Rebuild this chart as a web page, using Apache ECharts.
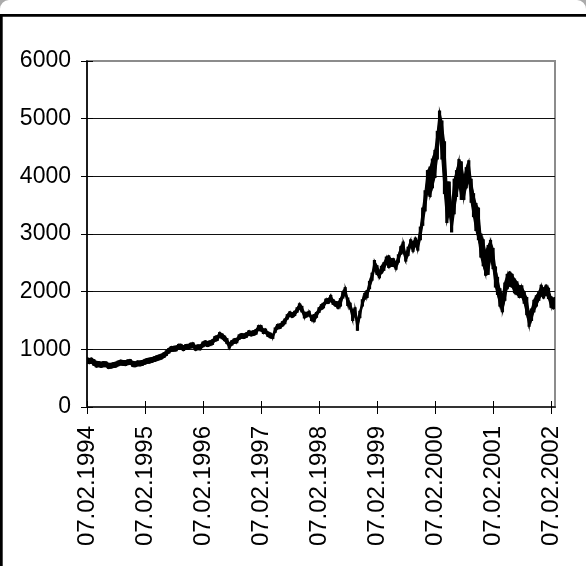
<!DOCTYPE html>
<html>
<head>
<meta charset="utf-8">
<title>Index 1994–2002</title>
<script src="https://cdn.jsdelivr.net/npm/echarts@6/dist/echarts.min.js"></script>
<style>
  html, body { margin: 0; padding: 0; background: #fff; }
  #chart { width: 586px; height: 566px; }
</style>
</head>
<body>
<div id="chart"></div>
<script>
// Half-monthly sampling dates
const dates = [
  '1994-02-07','1994-02-22','1994-03-07','1994-03-22','1994-04-07','1994-04-22','1994-05-07','1994-05-22','1994-06-07','1994-06-22','1994-07-07','1994-07-22','1994-08-07','1994-08-22','1994-09-07','1994-09-22','1994-10-07','1994-10-22','1994-11-07','1994-11-22','1994-12-07','1994-12-22',
  '1995-01-07','1995-01-22','1995-02-07','1995-02-22','1995-03-07','1995-03-22','1995-04-07','1995-04-22','1995-05-07','1995-05-22','1995-06-07','1995-06-22','1995-07-07','1995-07-22','1995-08-07','1995-08-22','1995-09-07','1995-09-22','1995-10-07','1995-10-22','1995-11-07','1995-11-22','1995-12-07','1995-12-22',
  '1996-01-07','1996-01-22','1996-02-07','1996-02-22','1996-03-07','1996-03-22','1996-04-07','1996-04-22','1996-05-07','1996-05-22','1996-06-07','1996-06-22','1996-07-07','1996-07-22','1996-08-07','1996-08-22','1996-09-07','1996-09-22','1996-10-07','1996-10-22','1996-11-07','1996-11-22','1996-12-07','1996-12-22',
  '1997-01-07','1997-01-22','1997-02-07','1997-02-22','1997-03-07','1997-03-22','1997-04-07','1997-04-22','1997-05-07','1997-05-22','1997-06-07','1997-06-22','1997-07-07','1997-07-22','1997-08-07','1997-08-22','1997-09-07','1997-09-22','1997-10-07','1997-10-22','1997-11-07','1997-11-22','1997-12-07','1997-12-22',
  '1998-01-07','1998-01-22','1998-02-07','1998-02-22','1998-03-07','1998-03-22','1998-04-07','1998-04-22','1998-05-07','1998-05-22','1998-06-07','1998-06-22','1998-07-07','1998-07-22','1998-08-07','1998-08-22','1998-09-07','1998-09-22','1998-10-07','1998-10-22','1998-11-07','1998-11-22','1998-12-07','1998-12-22',
  '1999-01-07','1999-01-22','1999-02-07','1999-02-22','1999-03-07','1999-03-22','1999-04-07','1999-04-22','1999-05-07','1999-05-22','1999-06-07','1999-06-22','1999-07-07','1999-07-22','1999-08-07','1999-08-22','1999-09-07','1999-09-22','1999-10-07','1999-10-22','1999-11-07','1999-11-22','1999-12-07','1999-12-22',
  '2000-01-07','2000-01-22','2000-02-07','2000-02-22','2000-03-07','2000-03-22','2000-04-07','2000-04-22','2000-05-07','2000-05-22','2000-06-07','2000-06-22','2000-07-07','2000-07-22','2000-08-07','2000-08-22','2000-09-07','2000-09-22','2000-10-07','2000-10-22','2000-11-07','2000-11-22','2000-12-07','2000-12-22',
  '2001-01-07','2001-01-22','2001-02-07','2001-02-22','2001-03-07','2001-03-22','2001-04-07','2001-04-22','2001-05-07','2001-05-22','2001-06-07','2001-06-22','2001-07-07','2001-07-22','2001-08-07','2001-08-22','2001-09-07','2001-09-22','2001-10-07','2001-10-22','2001-11-07','2001-11-22','2001-12-07','2001-12-22',
  '2002-01-07','2002-01-22','2002-02-07','2002-02-22','2002-03-04'
];

// Lowest value in each half-month
const lows = [
  760,755,760,725,695,700,690,700,700,670,675,685,695,715,730,725,720,735,740,705,700,715,
  715,725,745,760,765,775,790,805,820,835,860,895,935,965,970,975,1005,1005,980,1000,1005,1025,1030,985,
  995,995,1045,1065,1050,1065,1085,1140,1155,1210,1185,1150,1100,1020,1075,1105,1115,1175,1195,1190,1210,1245,1235,1245,
  1265,1330,1320,1275,1275,1225,1200,1190,1295,1355,1365,1405,1445,1525,1575,1555,1585,1645,1700,1650,1545,1565,1585,1500,
  1480,1555,1640,1695,1720,1795,1800,1830,1780,1750,1710,1750,1890,1950,1760,1700,1500,1590,1330,1550,1750,1870,1900,2050,
  2200,2370,2300,2240,2320,2370,2480,2420,2440,2440,2390,2510,2650,2680,2530,2630,2780,2700,2790,2720,2900,3150,3400,3700,
  3650,3800,3980,4300,4700,4300,3700,3200,3350,3035,3350,3650,3850,3600,3600,3800,3900,3550,3300,3060,2900,2600,2450,2285,
  2300,2550,2400,2080,1950,1750,1650,1850,2050,2100,2080,1980,1950,1900,1900,1800,1600,1400,1500,1650,1750,1850,1930,1890,
  1950,1880,1730,1706,1740
];

// Highest value in each half-month
const highs = [
  850,840,845,820,790,785,775,785,780,755,755,765,775,795,810,805,800,815,820,790,780,795,
  795,805,825,840,845,855,870,885,900,915,940,975,1015,1045,1050,1055,1085,1085,1060,1080,1085,1105,1110,1065,
  1075,1075,1125,1145,1135,1145,1165,1220,1235,1290,1265,1230,1185,1110,1150,1180,1190,1250,1270,1265,1285,1320,1310,1320,
  1345,1410,1410,1350,1350,1300,1280,1260,1370,1430,1440,1480,1525,1600,1650,1630,1660,1720,1790,1745,1640,1640,1660,1580,
  1600,1640,1720,1775,1800,1870,1880,1935,1860,1830,1820,1880,2000,2070,1890,1800,1680,1720,1520,1660,1860,1970,2020,2180,
  2320,2540,2450,2360,2440,2500,2600,2620,2570,2570,2510,2640,2780,2860,2660,2770,2900,2860,2930,2880,3120,3450,3750,4100,
  4160,4300,4450,4780,5133,4960,4600,3900,3900,3500,3950,4100,4290,4250,3980,4150,4270,3950,3700,3530,3450,3000,2900,2700,
  2800,2890,2750,2430,2250,2050,1950,2150,2300,2340,2300,2220,2170,2100,2100,2000,1900,1650,1700,1850,1930,2000,2110,2060,
  2110,2060,1910,1880,1900
];

// Labelled dates on the horizontal axis
const tickDates = ['1994-02-07','1995-02-07','1996-02-07','1997-02-07','1998-02-07','1999-02-07','2000-02-07','2001-02-07','2002-02-07'];
const axisStart = '1994-02-07';
const axisEnd = '2002-03-04';

// Value axis
const yMin = 0, yMax = 6000, yStep = 1000;

const toTime = s => Date.parse(s + 'T00:00:00Z');
const pad2 = n => (n < 10 ? '0' : '') + n;
const fmtDate = v => {
  const d = new Date(v);
  return pad2(d.getUTCDate()) + '.' + pad2(d.getUTCMonth() + 1) + '.' + d.getUTCFullYear();
};

const rangeData = dates.map((d, i) => [toTime(d), lows[i], highs[i]]);
const tickValues = tickDates.map(toTime);

const FONT = "'Liberation Sans', Arial, sans-serif";

const chart = echarts.init(document.getElementById('chart'), null, { renderer: 'canvas' });

// Dates are kept as UTC timestamps on a plain numeric axis
const xBase = {
  type: 'value',
  position: 'bottom',
  min: toTime(axisStart),
  max: toTime(axisEnd),
  splitLine: { show: false },
  minorTick: { show: false }
};
const yBase = {
  type: 'value',
  position: 'left',
  min: yMin,
  max: yMax,
  interval: yStep
};

// High–low band: each item fills the strip to the next sample and adds a bar of its own range
function renderRange(params, api) {
  const i = params.dataIndex;
  const lo = api.coord([api.value(0), api.value(1)]);
  const hi = api.coord([api.value(0), api.value(2)]);
  const children = [{
    type: 'rect',
    shape: { x: lo[0] - 1.6, y: hi[1] - 0.5, width: 3.2, height: Math.max(lo[1] - hi[1], 1) + 1 },
    style: { fill: '#000' }
  }];
  if (i < rangeData.length - 1) {
    const nx = rangeData[i + 1];
    const lo2 = api.coord([nx[0], nx[1]]);
    const hi2 = api.coord([nx[0], nx[2]]);
    children.push({
      type: 'polygon',
      shape: { points: [[hi[0], hi[1]], [hi2[0], hi2[1]], [lo2[0], lo2[1]], [lo[0], lo[1]]] },
      style: { fill: '#000', stroke: '#000', lineWidth: 1.2 }
    });
  }
  return { type: 'group', children: children };
}

chart.setOption({
  animation: false,
  backgroundColor: '#fff',
  grid: {
    left: 87, right: 31, top: 61, bottom: 159,
    show: true, borderColor: '#8c8c8c', borderWidth: 2, backgroundColor: 'transparent'
  },
  graphic: [
    {
      // soft grey rounded corners above the frame
      type: 'rect', silent: true, z: 0,
      shape: { x: -3, y: -3, width: 592, height: 700, r: 12 },
      style: { fill: 'none', stroke: '#ababab', lineWidth: 6 }
    },
    {
      // black chart-area frame
      type: 'rect', silent: true, z: 1,
      shape: { x: 1.35, y: 15.35, width: 700, height: 700 },
      style: { fill: 'none', stroke: '#000', lineWidth: 2.7 }
    }
  ],
  xAxis: [
    Object.assign({}, xBase, {
      axisLine: { show: true, lineStyle: { color: '#333', width: 2 } },
      axisTick: { show: true, customValues: tickValues, length: 7, lineStyle: { color: '#000', width: 1 } },
      axisLabel: {
        show: true, customValues: tickValues, rotate: 90, margin: 19,
        color: '#000', fontFamily: FONT, fontSize: 24,
        formatter: v => fmtDate(v)
      }
    }),
    Object.assign({}, xBase, {
      axisLine: { show: false },
      axisTick: { show: true, inside: true, customValues: tickValues, length: 6, lineStyle: { color: '#000', width: 1 } },
      axisLabel: { show: false }
    })
  ],
  yAxis: [
    Object.assign({}, yBase, {
      axisLine: { show: true, lineStyle: { color: '#000', width: 1.6 } },
      axisTick: { show: true, length: 6, lineStyle: { color: '#000', width: 1 } },
      axisLabel: { show: true, margin: 16, color: '#000', fontFamily: FONT, fontSize: 23, formatter: v => String(v) },
      splitLine: { show: true, showMaxLine: false, lineStyle: { color: '#111', width: 1 } }
    }),
    Object.assign({}, yBase, {
      axisLine: { show: false },
      axisTick: { show: true, inside: true, length: 6, lineStyle: { color: '#000', width: 1 } },
      axisLabel: { show: false },
      splitLine: { show: false }
    })
  ],
  series: [
    {
      name: 'High–Low',
      type: 'custom',
      xAxisIndex: 0,
      yAxisIndex: 0,
      clip: true,
      data: rangeData,
      encode: { x: 0, y: [1, 2] },
      renderItem: renderRange
    }
  ]
});
</script>
</body>
</html>
